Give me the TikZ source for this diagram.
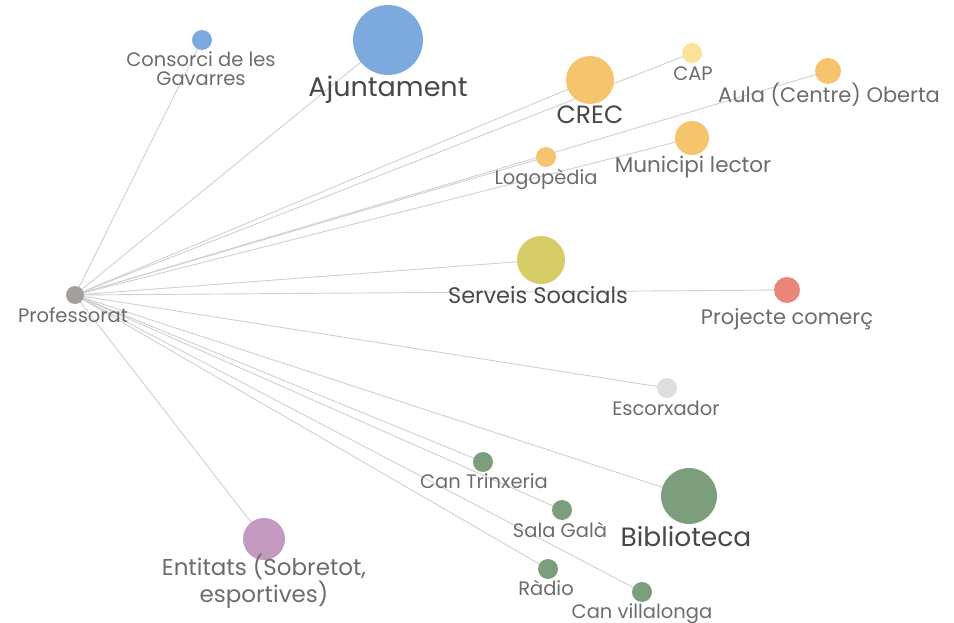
\documentclass[tikz,border=0pt]{standalone}
\usepackage{fontspec}
\setmainfont{Poppins}
\definecolor{edgegray}{RGB}{208,208,208}
\definecolor{labelgray}{RGB}{108,108,108}
\definecolor{darkgray}{RGB}{72,72,72}
\definecolor{profc}{RGB}{163,159,154}
\definecolor{bluec}{RGB}{124,170,222}
\definecolor{orangec}{RGB}{246,196,108}
\definecolor{palec}{RGB}{251,226,152}
\definecolor{olivec}{RGB}{214,204,104}
\definecolor{salmonc}{RGB}{234,134,120}
\definecolor{lightc}{RGB}{222,222,222}
\definecolor{greenc}{RGB}{124,158,124}
\definecolor{pinkc}{RGB}{196,154,192}

\begin{document}
\begin{tikzpicture}[x=1pt, y=-1pt,
  edge/.style={draw=edgegray, line width=0.9pt},
  lbl/.style={text=labelgray, inner sep=0pt, align=center, anchor=base, font=\fontsize{19.5}{19}\selectfont},
  mid/.style={lbl, font=\fontsize{21}{21}\selectfont},
  big/.style={lbl, text=darkgray}]
  \useasboundingbox (0,0) rectangle (954,623);
  \coordinate (prof)  at (75,295);
  \coordinate (cons)  at (202,40);
  \coordinate (ajunt) at (388,40);
  \coordinate (crec)  at (590,80);
  \coordinate (cap)   at (692,53);
  \coordinate (aula)  at (828,71);
  \coordinate (logo)  at (546,157);
  \coordinate (muni)  at (692,138);
  \coordinate (serv)  at (541,260);
  \coordinate (comer) at (787,290);
  \coordinate (escor) at (667,388);
  \coordinate (trinx) at (483,462);
  \coordinate (sala)  at (562,510);
  \coordinate (bibl)  at (689,496);
  \coordinate (radio) at (548,569);
  \coordinate (vila)  at (642,592);
  \coordinate (enti)  at (264,539);

  % arestes des del professorat
  \foreach \n in {cons,ajunt,crec,cap,aula,logo,muni,serv,comer,escor,trinx,sala,bibl,radio,vila,enti}
    \draw[edge] (prof) -- (\n);

  \fill[bluec]   (cons)  circle (10pt);
  \fill[bluec]   (ajunt) circle (35pt);
  \fill[orangec] (crec)  circle (24pt);
  \fill[palec]   (cap)   circle (10pt);
  \fill[orangec] (aula)  circle (13pt);
  \fill[orangec] (logo)  circle (10pt);
  \fill[orangec] (muni)  circle (17pt);
  \fill[olivec]  (serv)  circle (24pt);
  \fill[salmonc] (comer) circle (13pt);
  \fill[lightc]  (escor) circle (10pt);
  \fill[greenc]  (trinx) circle (10pt);
  \fill[greenc]  (sala)  circle (10pt);
  \fill[greenc]  (bibl)  circle (28pt);
  \fill[greenc]  (radio) circle (10pt);
  \fill[greenc]  (vila)  circle (10pt);
  \fill[pinkc]   (enti)  circle (21pt);
  \fill[profc]   (prof)  circle (9pt);

  \node[lbl] (profL)  at (73,322)  {Professorat};
  \node[lbl] (consL)  at (201,86)  {Consorci de les\\Gavarres};
  \node[big, font=\fontsize{27}{27}\selectfont] (ajuntL) at (388,97) {Ajuntament};
  \node[big, font=\fontsize{25}{25}\selectfont] (crecL)  at (590,124) {CREC};
  \node[lbl] (capL)   at (693,81)  {CAP};
  \node[mid] (aulaL)  at (829,103) {Aula (Centre) Oberta};
  \node[lbl] (logoL)  at (546,185) {Logopèdia};
  \node[mid, font=\fontsize{21.5}{21}\selectfont] (muniL)  at (693,173) {Municipi lector};
  \node[big, font=\fontsize{22.5}{22}\selectfont] (servL)  at (538,303) {Serveis Soacials};
  \node[mid] (comerL) at (787,324) {Projecte comerç};
  \node[lbl] (escorL) at (666,415) {Escorxador};
  \node[lbl] (trinxL) at (484,488) {Can Trinxeria};
  \node[lbl] (salaL)  at (560,537) {Sala Galà};
  \node[big, font=\fontsize{26.5}{26}\selectfont] (biblL) at (686,546) {Biblioteca};
  \node[lbl] (radioL) at (546,595) {Ràdio};
  \node[lbl] (vilaL)  at (642,618) {Can villalonga};
  \node[lbl, font=\fontsize{23}{23}\selectfont] (entiL) at (264,602) {Entitats (Sobretot,\\esportives)};
\end{tikzpicture}
\end{document}
